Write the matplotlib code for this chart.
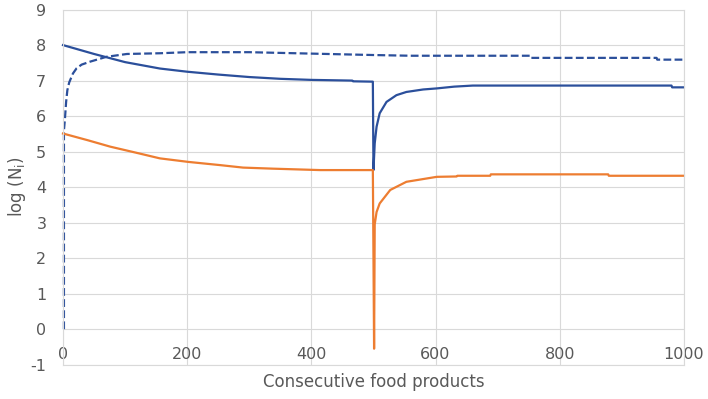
import matplotlib.pyplot as plt

plt.rcParams["axes.unicode_minus"] = False

# values
blue_x = [0, 50, 100, 156, 200, 250, 300, 350, 400, 466, 467, 499, 500, 502, 505, 510, 521,
          537, 553, 580, 602, 630, 660, 980, 981, 1000]
blue_y = [8.0, 7.75, 7.52, 7.34, 7.25, 7.17, 7.1, 7.05, 7.02, 7.0, 6.98, 6.97, 4.48, 5.23, 5.7,
          6.08, 6.4, 6.59, 6.68, 6.75, 6.78, 6.83, 6.86, 6.86, 6.81, 6.81]

dash_x = [1.5, 1.5, 3, 5, 7, 10, 16, 22, 30, 43, 70, 103, 156, 200, 300, 400, 500, 560, 752,
          753, 956, 957, 1000]
dash_y = [0.0, 5.6, 5.9, 6.4, 6.73, 6.95, 7.2, 7.35, 7.45, 7.53, 7.67, 7.75, 7.77, 7.8, 7.8,
          7.76, 7.72, 7.7, 7.7, 7.64, 7.64, 7.59, 7.59]

orange_x = [0, 40, 76, 120, 156, 202, 253, 290, 338, 414, 499, 500, 501, 502, 505, 510, 527,
            553, 602, 634, 635, 688, 689, 878, 879, 1000]
orange_y = [5.51, 5.32, 5.14, 4.96, 4.81, 4.71, 4.62, 4.55, 4.52, 4.48, 4.48, 2.04, -0.55, 2.95,
            3.3, 3.54, 3.92, 4.15, 4.29, 4.3, 4.32, 4.32, 4.36, 4.36, 4.32, 4.32]

x_ticks = [0, 200, 400, 600, 800, 1000]
y_ticks = [-1, 0, 1, 2, 3, 4, 5, 6, 7, 8, 9]

blue = "#2B4F9B"
orange = "#ED7D31"
grey = "#D9D9D9"
text_grey = "#595959"

fig = plt.figure(figsize=(7.08, 3.99), dpi=100)
ax = fig.add_axes([0.089, 0.086, 0.877, 0.89])

ax.plot(blue_x, blue_y, color=blue, lw=1.6, clip_on=False)
ax.plot(dash_x, dash_y, color=blue, lw=1.6, linestyle=(0, (3.5, 1.5)), clip_on=False)
ax.plot(orange_x, orange_y, color=orange, lw=1.6, clip_on=False)

ax.set_xlim(0, 1000)
ax.set_ylim(-1, 9)
ax.set_xticks(x_ticks)
ax.set_yticks(y_ticks)
ax.grid(True, color=grey, lw=0.8)
ax.set_axisbelow(True)
for s in ax.spines.values():
    s.set_color(grey)
    s.set_linewidth(0.8)

ax.tick_params(axis="both", length=0, labelsize=11.5, labelcolor=text_grey)
ax.tick_params(axis="y", pad=12)
ax.tick_params(axis="x", pad=-13)

ax.set_xlabel("Consecutive food products", fontsize=12, color=text_grey, labelpad=6)
ax.set_ylabel("log (N$_\\mathregular{i}$)", fontsize=12, color=text_grey, labelpad=2)

fig.savefig("out.png", dpi=100)
